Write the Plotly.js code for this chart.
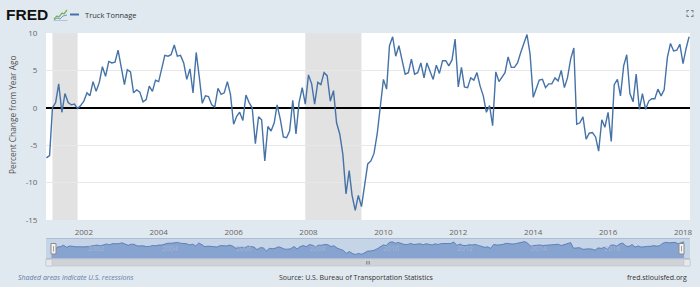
<!DOCTYPE html>
<html>
<head>
<meta charset="utf-8">
<script src="https://cdn.plot.ly/plotly-3.0.1.min.js"></script>
<style>
  html, body { margin: 0; padding: 0; background: #e1e9f0; }
  #chart { width: 700px; height: 287px; }
</style>
</head>
<body>
<div id="chart"></div>
<script>
// Truck Tonnage, percent change from year ago, monthly from Jan 2001
const firstYear = 2001;
const tonnageChange = [
  -6.7, -6.4, 0.0, 0.7, 3.2, -0.6, 1.9, 0.7, 0.4, 0.5, -0.1, 0.3,
  0.9, 2.0, 1.6, 3.5, 2.2, 3.4, 5.5, 4.2, 6.2, 6.0, 6.1, 7.7,
  5.4, 3.1, 5.1, 4.8, 2.0, 2.4, 2.1, 0.8, 1.1, 2.9, 2.2, 3.7,
  3.5, 5.4, 7.0, 6.9, 7.1, 8.4, 6.9, 7.0, 6.0, 3.8, 5.2, 2.0,
  7.4, 4.0, 0.6, 1.6, 1.5, 0.4, 0.1, 2.6, 1.8, 2.0, 3.5, 1.8,
  -2.2, -1.1, -0.6, -1.7, 1.7, 0.7, 0.0, -4.8, -1.2, -1.6, -7.1, -2.5,
  -3.1, -2.0, 0.4, -1.5, -3.9, -4.0, -3.1, 1.0, -3.5, 0.7, 2.7, 0.5,
  4.4, 3.2, 0.5, 3.4, 3.1, 4.7, 4.3, 0.9, 2.3, -2.0, -3.5, -6.2,
  -11.5, -8.4, -11.7, -13.7, -11.7, -13.2, -10.5, -7.5, -7.1, -6.1, -3.5, 0.3,
  3.8, 2.5, 8.3, 9.5, 6.9, 8.3, 6.5, 4.5, 4.7, 6.5, 4.5, 4.7,
  6.0, 4.0, 6.0, 4.9, 3.8, 5.7, 4.6, 6.3, 6.3, 5.6, 6.4, 9.2,
  2.8, 5.4, 2.8, 2.7, 4.0, 3.7, 4.7, 2.9, 1.6, -0.6, 0.3, -2.4,
  4.8, 3.5, 4.0, 4.7, 6.8, 5.4, 5.4, 6.0, 7.4, 8.7, 9.8, 7.2,
  1.4, 2.6, 3.7, 3.8, 2.7, 3.2, 3.2, 4.0, 3.6, 5.0, 2.7, 4.0,
  6.5, 8.0, -2.2, -2.0, -1.2, -4.2, -3.4, -3.3, -3.9, -5.8, -1.6, -2.6,
  -0.6, -4.5, 3.1, 3.8, 1.6, 5.6, 7.1, 1.9, 0.8, 4.5, -0.2, 1.9,
  -0.2, 0.9, 1.2, 1.2, 2.5, 1.6, 2.4, 6.7, 8.6, 7.6, 7.7, 8.5,
  5.9, 8.0, 9.5
];

// NBER recession periods
const recessionStarts = ['2001-03-01', '2007-12-01'];
const recessionEnds   = ['2001-11-01', '2009-06-01'];

const yTicks = [-15, -10, -5, 0, 5, 10];
const xTickYears = ['2002', '2004', '2006', '2008', '2010', '2012', '2014', '2016', '2018'];

const dates = tonnageChange.map((_, i) => {
  const y = firstYear + Math.floor(i / 12);
  const m = String(i % 12 + 1).padStart(2, '0');
  return `${y}-${m}-01`;
});
const xTickVals = xTickYears.map(y => `${y}-01-01`);

// page geometry (pixels) and conversion to paper coordinates
const W = 700, H = 287, ML = 46, MR = 10, MT = 33, MB = 22;
const PW = W - ML - MR, PH = H - MT - MB;
const px = x => (x - ML) / PW;
const py = y => (H - MB - y) / PH;

const xRange = ['2000-12-28', '2018-03-10'];
const navBottom = -21, navTop = 15.5;
const blue = '#4572a7';
const font = '"Open Sans", "Liberation Sans", sans-serif';

const traces = [
  {
    x: dates, y: tonnageChange, type: 'scatter', mode: 'lines',
    line: { color: blue, width: 1.4 }, xaxis: 'x', yaxis: 'y', hoverinfo: 'x+y'
  },
  {
    x: dates, y: dates.map(() => navBottom), type: 'scatter', mode: 'lines',
    line: { width: 0, color: 'rgba(0,0,0,0)' }, xaxis: 'x2', yaxis: 'y2', hoverinfo: 'skip'
  },
  {
    x: dates, y: tonnageChange, type: 'scatter', mode: 'lines', fill: 'tonexty',
    fillcolor: '#87a3cf', line: { color: '#4d73ae', width: 0.8 },
    xaxis: 'x2', yaxis: 'y2', hoverinfo: 'skip'
  }
];

const shapes = [];
recessionStarts.forEach((s, i) => {
  shapes.push({
    type: 'rect', xref: 'x', yref: 'y', x0: s, x1: recessionEnds[i], y0: -15, y1: 10,
    fillcolor: '#e2e2e2', line: { width: 0 }, layer: 'below'
  });
});

// navigator frame
shapes.push({ type: 'rect', xref: 'paper', yref: 'paper', x0: px(46), x1: px(690), y0: py(258.5), y1: py(238.5),
  fillcolor: '#c6d4e8', line: { width: 0 }, layer: 'below' });
shapes.push({ type: 'line', xref: 'paper', yref: 'paper', x0: px(46), x1: px(690), y0: py(238.5), y1: py(238.5),
  line: { color: '#aebdd2', width: 1 } });
shapes.push({ type: 'line', xref: 'paper', yref: 'paper', x0: px(46), x1: px(690), y0: py(258.5), y1: py(258.5),
  line: { color: '#aebdd2', width: 1 } });
// navigator handles
[53.5, 681.5].forEach(hx => {
  shapes.push({ type: 'rect', xref: 'paper', yref: 'paper', x0: px(hx - 2.5), x1: px(hx + 2.5), y0: py(254), y1: py(243.5),
    fillcolor: '#f4f4f4', line: { color: '#8c8c8c', width: 1 } });
  shapes.push({ type: 'line', xref: 'paper', yref: 'paper', x0: px(hx), x1: px(hx), y0: py(251.5), y1: py(246),
    line: { color: '#8c8c8c', width: 0.8 } });
});
// scrollbar
shapes.push({ type: 'rect', xref: 'paper', yref: 'paper', x0: px(46), x1: px(690), y0: py(266), y1: py(259.5),
  fillcolor: '#cfd3d8', line: { color: '#c0c4c9', width: 0.6 } });
shapes.push({ type: 'rect', xref: 'paper', yref: 'paper', x0: px(46), x1: px(52), y0: py(266), y1: py(259.5),
  fillcolor: '#e6e8eb', line: { color: '#c0c4c9', width: 0.6 } });
shapes.push({ type: 'rect', xref: 'paper', yref: 'paper', x0: px(684), x1: px(690), y0: py(266), y1: py(259.5),
  fillcolor: '#e6e8eb', line: { color: '#c0c4c9', width: 0.6 } });
[366.5, 368, 369.5].forEach(gx => {
  shapes.push({ type: 'line', xref: 'paper', yref: 'paper', x0: px(gx), x1: px(gx), y0: py(264.5), y1: py(261),
    line: { color: '#777', width: 0.7 } });
});

// legend swatch
shapes.push({ type: 'line', xref: 'paper', yref: 'paper', x0: px(70), x1: px(79), y0: py(14.5), y1: py(14.5),
  line: { color: blue, width: 2 } });

// small chart logo next to the FRED wordmark
const pathOf = pts => pts.map((p, i) => `${i ? 'L' : 'M'}${px(p[0])},${py(p[1])}`).join(' ');
shapes.push({ type: 'path', xref: 'paper', yref: 'paper',
  path: pathOf([[54, 19], [57, 16], [59, 17], [62, 13], [64, 14], [67, 10]]),
  line: { color: '#7fb24d', width: 1.3 } });
shapes.push({ type: 'path', xref: 'paper', yref: 'paper',
  path: pathOf([[54, 20], [57, 18], [60, 19], [63, 16], [67, 15]]),
  line: { color: '#6f9bd1', width: 1 } });
shapes.push({ type: 'line', xref: 'paper', yref: 'paper', x0: px(53.5), x1: px(67.5), y0: py(20.5), y1: py(20.5),
  line: { color: '#a9b8c8', width: 0.8 } });

// full-screen icon corners
const fsL = 687, fsR = 693, fsT = 10.5, fsB = 16.5, k = 2;
[
  [[fsL, fsT + k], [fsL, fsT], [fsL + k, fsT]],
  [[fsR - k, fsT], [fsR, fsT], [fsR, fsT + k]],
  [[fsL, fsB - k], [fsL, fsB], [fsL + k, fsB]],
  [[fsR - k, fsB], [fsR, fsB], [fsR, fsB - k]]
].forEach(c => shapes.push({ type: 'path', xref: 'paper', yref: 'paper', path: pathOf(c),
  line: { color: '#7d8794', width: 1.2 } }));

const annotations = [
  { text: '<b>FRED</b>', x: px(3.5), y: py(14.5), xref: 'paper', yref: 'paper', xanchor: 'left', yanchor: 'middle',
    showarrow: false, font: { family: '"Liberation Sans", Arial, sans-serif', size: 15.5, color: '#111' } },
  { text: 'Truck Tonnage', x: px(83), y: py(14.5), xref: 'paper', yref: 'paper', xanchor: 'left', yanchor: 'middle',
    showarrow: false, font: { family: font, size: 7.5, color: '#333' } },
  { text: 'Percent Change from Year Ago', x: px(12.5), y: py(115.5), xref: 'paper', yref: 'paper',
    xanchor: 'center', yanchor: 'middle', textangle: -90, showarrow: false,
    font: { family: font, size: 8.3, color: '#555' } },
  { text: '<i>Shaded areas indicate U.S. recessions</i>', x: px(16), y: py(277.5), xref: 'paper', yref: 'paper',
    xanchor: 'left', yanchor: 'middle', showarrow: false, font: { family: font, size: 7, color: '#5d7ca6' } },
  { text: 'Source: U.S. Bureau of Transportation Statistics', x: px(356), y: py(277.5), xref: 'paper', yref: 'paper',
    xanchor: 'center', yanchor: 'middle', showarrow: false, font: { family: font, size: 7, color: '#333' } },
  { text: 'fred.stlouisfed.org', x: px(688.5), y: py(277.5), xref: 'paper', yref: 'paper',
    xanchor: 'right', yanchor: 'middle', showarrow: false, font: { family: font, size: 7, color: '#333' } }
];

const layout = {
  width: W, height: H,
  margin: { l: ML, r: MR, t: MT, b: MB, pad: 0 },
  paper_bgcolor: '#e1e9f0',
  plot_bgcolor: '#ffffff',
  showlegend: false,
  font: { family: font, size: 8, color: '#666' },
  xaxis: {
    type: 'date', range: xRange, domain: [0, 1], anchor: 'y',
    tickvals: xTickVals, ticktext: xTickYears,
    showgrid: false, zeroline: false, showline: false,
    ticks: 'outside', ticklen: 4, tickcolor: 'rgba(0,0,0,0)',
    tickfont: { family: font, size: 8, color: '#666' }, fixedrange: true
  },
  yaxis: {
    range: [-15, 10], domain: [py(220), 1], anchor: 'x',
    tickvals: yTicks, ticktext: yTicks.map(String),
    showgrid: true, gridcolor: '#e8e8e8', gridwidth: 1,
    zeroline: true, zerolinecolor: '#000', zerolinewidth: 1.5,
    showline: false, ticks: 'outside', ticklen: 6, tickcolor: 'rgba(0,0,0,0)',
    tickfont: { family: font, size: 8, color: '#666' }, fixedrange: true
  },
  xaxis2: {
    type: 'date', range: xRange, domain: [px(51), px(685)], anchor: 'y2',
    tickvals: xTickVals.slice(0, -1), ticktext: xTickYears.slice(0, -1),
    ticklabelposition: 'inside right', ticks: '', showgrid: false, zeroline: false, showline: false,
    tickfont: { family: font, size: 7, color: '#a3b6d6' }, fixedrange: true
  },
  yaxis2: {
    range: [navBottom, navTop], domain: [py(258.5), py(238.5)], anchor: 'x2',
    visible: false, fixedrange: true
  },
  shapes: shapes,
  annotations: annotations
};

Plotly.newPlot('chart', traces, layout, { displayModeBar: false, staticPlot: false });
</script>
</body>
</html>
